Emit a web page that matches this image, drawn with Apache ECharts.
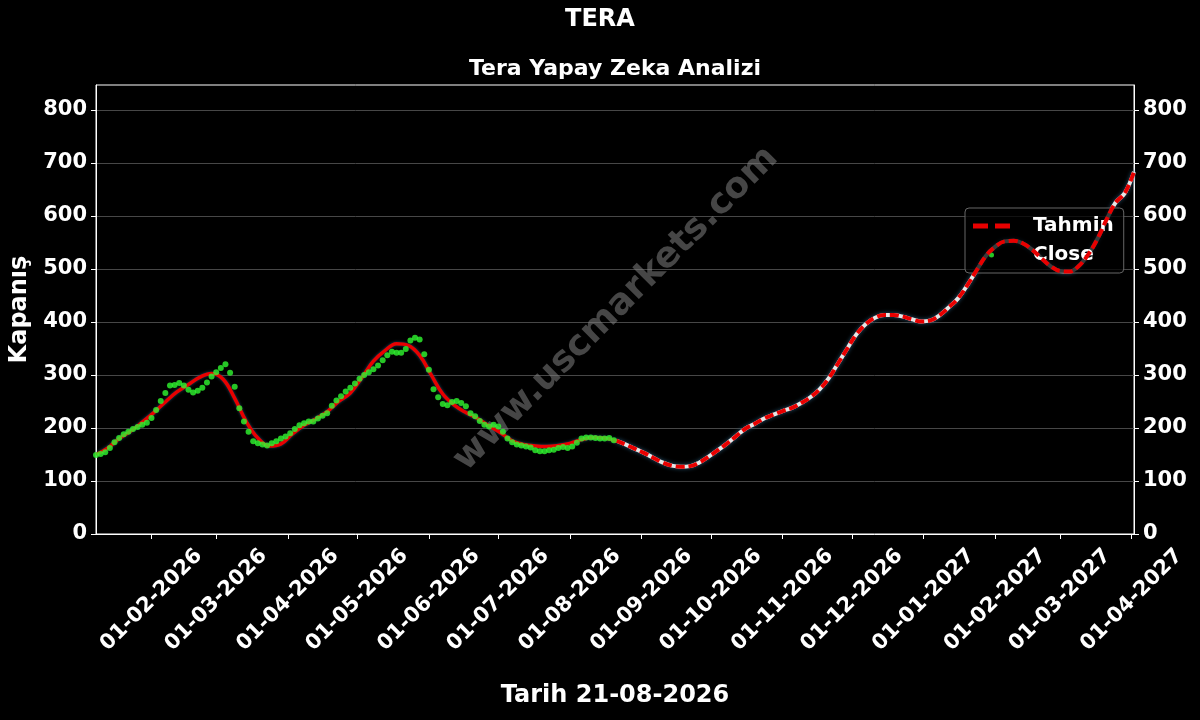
<!DOCTYPE html>
<html>
<head>
<meta charset="utf-8">
<script src="https://cdn.jsdelivr.net/npm/echarts@6/dist/echarts.min.js"></script>
<style>html,body{margin:0;padding:0;background:#000}#c{width:1200px;height:720px}</style>
</head>
<body>
<div id="c"></div>
<script>
const chartTitle = 'TERA';
const chartSubtitle = 'Tera Yapay Zeka Analizi';
const xAxisName = 'Tarih 21-08-2026';
const yAxisName = 'Kapanış';
const watermarkText = 'www.uscmarkets.com';
const legendNames = ['Tahmin', 'Close'];

// Close: one reading every 2 days from closeStart
const closeStart = '2026-01-08';
const closeStepDays = 2;
const closeValues = [
  149,151,154,162,173,181,188,193,198,202,
  206,210,219,234,251,266,280,281,285,280,
  272,267,270,276,286,297,305,313,320,304,
  278,237,212,193,175,171,169,167,171,175,
  180,184,190,198,205,209,212,212,218,223,
  228,242,252,260,269,276,284,293,300,305,
  311,318,328,337,344,342,342,349,365,370,
  367,339,310,273,258,245,243,249,251,247,
  241,228,222,213,206,203,206,203,193,180,
  173,169,167,165,163,158,156,156,158,159,
  162,164,162,165,172,180,182,182,181,180,
  180,181,177
];

// Model fit over the history: one reading every 5 days
const fitStart = '2026-01-08';
const fitStepDays = 5;
const fitValues = [
  150,162,180,194,211,229,249,268,282,296,
  303,292,256,212,181,166,170,189,205,217,
  231,250,266,295,326,346,359,356,337,300,
  264,243,229,218,204,191,176,169,166,165,
  167,171,178,182,181,175
];

// Forecast (Tahmin): one reading every 4 days
const forecastStart = '2026-08-21';
const forecastStepDays = 4;
const forecastValues = [
  176,169,161,153,144,135,129,127,128,135,
  146,158,171,185,199,208,218,225,232,238,
  247,258,273,294,322,350,377,396,408,413,
  413,410,405,401,403,413,428,445,470,498,
  525,542,552,553,548,536,520,505,496,495,
  505,526,555,592,625,643,683
];

const monthTicks = [
  '2026-02-01','2026-03-01','2026-04-01','2026-05-01','2026-06-01',
  '2026-07-01','2026-08-01','2026-09-01','2026-10-01','2026-11-01',
  '2026-12-01','2027-01-01','2027-02-01','2027-03-01','2027-04-01'
];
const xMin = '2026-01-08';
const xMax = '2027-04-02';
const yTicks = [0,100,200,300,400,500,600,700,800];
const yMin = 0;
const yMax = 847;

const DAY = 86400000;
function ts(s) { const p = s.split('-').map(Number); return Date.UTC(p[0], p[1] - 1, p[2]); }
function series(start, step, vals) { const t0 = ts(start); return vals.map((v, i) => [t0 + i * step * DAY, v]); }
function pad(n) { return (n < 10 ? '0' : '') + n; }
function fmtDate(v) { const d = new Date(v); return pad(d.getUTCDate()) + '-' + pad(d.getUTCMonth() + 1) + '-' + d.getUTCFullYear(); }

const closeData = series(closeStart, closeStepDays, closeValues);
const fitData = series(fitStart, fitStepDays, fitValues);
const forecastData = series(forecastStart, forecastStepDays, forecastValues);
const monthTs = monthTicks.map(ts);

const FONT = '"DejaVu Sans", "Liberation Sans", sans-serif';
const RED = '#e80000';
const GREEN = '#30f830';

const chart = echarts.init(document.getElementById('c'));
const option = {
  backgroundColor: '#000',
  animation: false,
  textStyle: { fontFamily: FONT, fontWeight: 'bold', color: '#fff' },
  graphic: [
    { type: 'text', x: 600, y: 20, z: 10, style: { text: chartTitle, font: 'bold 24px ' + FONT, fill: '#fff', align: 'center', verticalAlign: 'middle' } },
    { type: 'text', x: 615, y: 69, z: 10, style: { text: chartSubtitle, font: 'bold 22px ' + FONT, fill: '#fff', align: 'center', verticalAlign: 'middle' } },
    { type: 'text', x: 616, y: 309, rotation: Math.PI / 4, z: 1, silent: true,
      style: { text: watermarkText, font: 'bold 36px ' + FONT, fill: 'rgba(128,128,128,0.55)', align: 'center', verticalAlign: 'middle' } }
  ],
  grid: { left: 96, right: 66, top: 85, bottom: 186, outerBoundsMode: 'none', containLabel: false,
    show: true, borderColor: '#fff', borderWidth: 1, backgroundColor: 'transparent' },
  legend: {
    data: [
      { name: legendNames[0], icon: 'path://M0,0h15v5h-15z M22,0h15v5h-15z', itemStyle: { color: RED } },
      { name: legendNames[1], icon: 'circle', itemStyle: { color: GREEN } }
    ],
    orient: 'vertical',
    left: 965, top: 208,
    itemWidth: 37, itemHeight: 5, itemGap: 9,
    padding: [8, 10, 8, 8],
    backgroundColor: 'rgba(0,0,0,0.75)',
    borderColor: '#666', borderWidth: 1, borderRadius: 4,
    textStyle: { color: '#fff', fontSize: 20, fontWeight: 'bold', fontFamily: FONT, padding: [0, 0, 0, 18] }
  },
  xAxis: {
    type: 'value',
    min: ts(xMin), max: ts(xMax),
    name: xAxisName, nameLocation: 'middle', nameGap: 150,
    nameTextStyle: { color: '#fff', fontSize: 24, fontWeight: 'bold', fontFamily: FONT },
    axisLine: { show: true, lineStyle: { color: '#fff', width: 1 } },
    axisTick: { show: true, length: 5, lineStyle: { color: '#fff' }, customValues: monthTs },
    axisLabel: { customValues: monthTs, rotate: 45, align: 'center', verticalAlign: 'middle', margin: 66,
      color: '#fff', fontSize: 21, fontWeight: 'bold', fontFamily: FONT, formatter: fmtDate, hideOverlap: false },
    splitLine: { show: false }
  },
  yAxis: [
    {
      type: 'value', min: yMin, max: yMax, interval: 100, position: 'left',
      name: yAxisName, nameLocation: 'middle', nameGap: 57,
      nameTextStyle: { color: '#fff', fontSize: 24, fontWeight: 'bold', fontFamily: FONT },
      axisLine: { show: true, lineStyle: { color: '#fff' } },
      axisTick: { show: true, length: 5, lineStyle: { color: '#fff' }, customValues: yTicks },
      axisLabel: { customValues: yTicks, color: '#fff', fontSize: 21, fontWeight: 'bold', fontFamily: FONT, margin: 9 },
      splitLine: { show: true, lineStyle: { color: '#474747', width: 1 } }
    },
    {
      type: 'value', min: yMin, max: yMax, interval: 100, position: 'right',
      axisLine: { show: true, lineStyle: { color: '#fff' } },
      axisTick: { show: true, length: 5, lineStyle: { color: '#fff' }, customValues: yTicks },
      axisLabel: { customValues: yTicks, color: '#fff', fontSize: 21, fontWeight: 'bold', fontFamily: FONT, margin: 9 },
      splitLine: { show: false }
    }
  ],
  series: [
    { name: 'Tahmin', type: 'line', data: forecastData, symbol: 'none', smooth: 0.4, z: 4,
      lineStyle: { color: RED, width: 4, type: [9, 4] }, itemStyle: { color: RED } },
    { name: 'TahminBase', type: 'line', data: forecastData, symbol: 'none', smooth: 0.4, z: 3, silent: true,
      lineStyle: { color: '#e6e6e6', width: 4, shadowColor: 'rgba(40,90,120,0.9)', shadowBlur: 4 } },
    { name: 'Fit', type: 'line', data: fitData, symbol: 'none', smooth: 0.4, z: 3, silent: true,
      lineStyle: { color: RED, width: 3.5, shadowColor: 'rgba(40,90,120,0.8)', shadowBlur: 3 } },
    { name: 'Close', type: 'scatter', data: closeData, symbol: 'circle', symbolSize: 6, z: 5,
      itemStyle: { color: GREEN } }
  ]
};
chart.setOption(option);
</script>
</body>
</html>
